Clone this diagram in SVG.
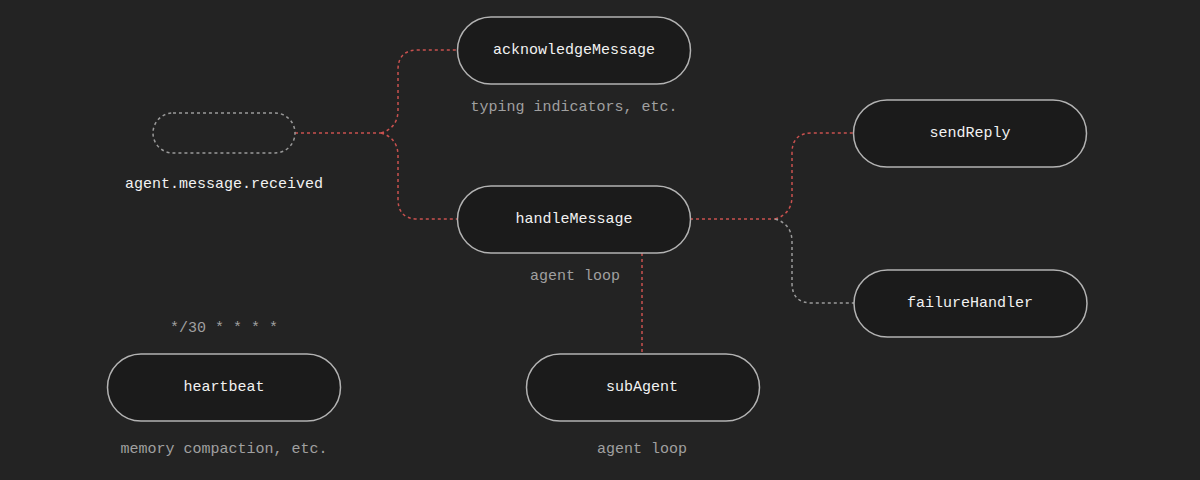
<svg xmlns="http://www.w3.org/2000/svg" width="1200" height="480" viewBox="0 0 1200 480">
<style>
.node{fill:#1b1b1b;stroke:#b3b3b3;stroke-width:1.5}
.trig{fill:none;stroke:#9a9a9a;stroke-width:1.5;stroke-dasharray:3 3}
.lbl{font-family:"Liberation Mono","DejaVu Sans Mono",monospace;font-size:15px;fill:#f2f2f2;text-anchor:middle;dominant-baseline:central}
.sub{font-family:"Liberation Mono","DejaVu Sans Mono",monospace;font-size:15px;fill:#a0a0a0;text-anchor:middle;dominant-baseline:central}
.red{fill:none;stroke:#c9514f;stroke-width:1.5;stroke-dasharray:3 3}
.gray{fill:none;stroke:#9a9a9a;stroke-width:1.5;stroke-dasharray:3 3}
</style>
<rect width="1200" height="480" fill="#232323"/>
<g id="connectors">
<path class="red" d="M295 133 H381"/>
<path class="red" d="M381 133 Q398 128 398 110 V70 Q398 50 418 50 H457"/>
<path class="red" d="M381 133 Q398 138 398 156 V199 Q398 219 418 219 H457"/>
<path class="red" d="M690 219 H775"/>
<path class="red" d="M775 219 Q792 214 792 196 V153 Q792 133 812 133 H853"/>
<path class="gray" d="M775 219 Q792 224 792 242 V283 Q792 303 812 303 H854"/>
<path class="red" d="M642 253 V354"/>
</g>
<g id="trigger">
<rect class="trig" x="153" y="113" width="142" height="40" rx="20"/>
<text class="lbl" x="224" y="184">agent.message.received</text>
</g>
<g id="acknowledgeMessage">
<rect class="node" x="457.5" y="17" width="233" height="67" rx="33.5"/>
<text class="lbl" x="574" y="50">acknowledgeMessage</text>
<text class="sub" x="574" y="107">typing indicators, etc.</text>
</g>
<g id="handleMessage">
<rect class="node" x="457.5" y="186" width="233" height="67" rx="33.5"/>
<text class="lbl" x="574" y="219">handleMessage</text>
<text class="sub" x="575" y="276">agent loop</text>
</g>
<g id="sendReply">
<rect class="node" x="853.5" y="100" width="233" height="67" rx="33.5"/>
<text class="lbl" x="970" y="133">sendReply</text>
</g>
<g id="failureHandler">
<rect class="node" x="854" y="270" width="233" height="67" rx="33.5"/>
<text class="lbl" x="970" y="303">failureHandler</text>
</g>
<g id="heartbeat">
<text class="sub" x="224" y="328">*/30 * * * *</text>
<rect class="node" x="107.5" y="354" width="233" height="67" rx="33.5"/>
<text class="lbl" x="224" y="387">heartbeat</text>
<text class="sub" x="224" y="449">memory compaction, etc.</text>
</g>
<g id="subAgent">
<rect class="node" x="526.5" y="354" width="233" height="67" rx="33.5"/>
<text class="lbl" x="642" y="387">subAgent</text>
<text class="sub" x="642" y="449">agent loop</text>
</g>
</svg>
